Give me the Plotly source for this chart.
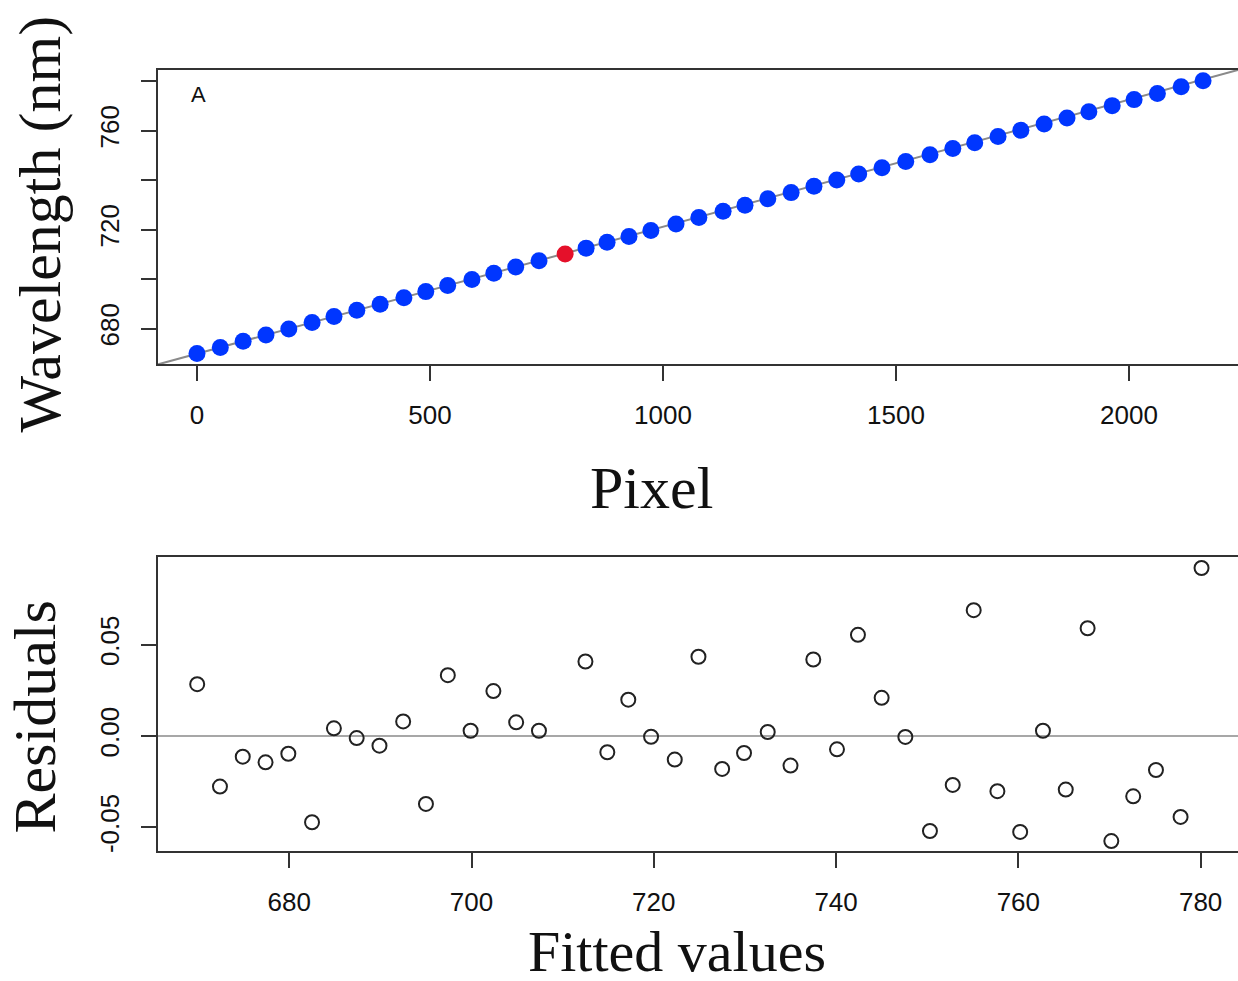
import plotly.graph_objects as go

# ---- data ----
pixel = [0, 50, 99, 148, 197, 247, 294, 343, 393, 444, 491, 538, 590, 637, 684, 734,
         835, 880, 927, 974, 1028, 1077, 1129, 1176, 1225, 1275, 1324, 1373, 1420, 1470,
         1521, 1573, 1622, 1669, 1719, 1768, 1818, 1867, 1914, 1964, 2011, 2061, 2112, 2159]
wavelength = [669.93, 672.37, 674.89, 677.39, 679.89, 682.45, 684.90, 687.40, 689.89, 692.51,
              694.96, 697.43, 699.90, 702.42, 704.91, 707.40, 712.54, 714.89, 717.24, 719.70,
              722.29, 724.94, 727.48, 729.89, 732.50, 734.98, 737.54, 740.09, 742.46, 745.02,
              747.60, 750.25, 752.77, 755.17, 757.67, 760.15, 762.70, 765.17, 767.66, 770.14,
              772.57, 775.08, 777.76, 780.19]
outlier_pixel = [790]
outlier_wavelength = [710.2]

fit_intercept = 669.85
fit_slope = 0.05135

fitted = [669.9, 672.4, 674.9, 677.4, 679.9, 682.5, 684.9, 687.4, 689.9, 692.5, 695.0, 697.4,
          699.9, 702.4, 704.9, 707.4, 712.5, 714.9, 717.2, 719.7, 722.3, 724.9, 727.5, 729.9,
          732.5, 735.0, 737.5, 740.1, 742.4, 745.0, 747.6, 750.3, 752.8, 755.1, 757.7, 760.2,
          762.7, 765.2, 767.6, 770.2, 772.6, 775.1, 777.8, 780.1]
residuals = [0.0284, -0.0277, -0.0113, -0.0144, -0.0097, -0.0472, 0.0042, -0.0011, -0.0053,
             0.0080, -0.0372, 0.0333, 0.0029, 0.0246, 0.0075, 0.0029, 0.0408, -0.0089, 0.0199,
             -0.0004, -0.0129, 0.0434, -0.0180, -0.0093, 0.0022, -0.0162, 0.0419, -0.0073,
             0.0554, 0.0209, -0.0005, -0.0520, -0.0268, 0.0689, -0.0302, -0.0525, 0.0029,
             -0.0293, 0.0590, -0.0575, -0.0330, -0.0186, -0.0443, 0.0920]

top_xticks = [0, 500, 1000, 1500, 2000]
top_yticks = [680, 700, 720, 740, 760, 780]
top_yticktext = ["680", "", "720", "", "760", ""]
bot_xticks = [680, 700, 720, 740, 760, 780]
bot_yticks = [-0.05, 0.0, 0.05]
bot_yticktext = ["-0.05", "0.00", "0.05"]

# ---- figure ----
W, H = 1238, 981
X0 = 158 / W
top_dom = [1 - 365 / H, 1 - 70 / H]
bot_dom = [1 - 853 / H, 1 - 558 / H]
top_xr = [-83.7, 2234]
top_yr = [665.6, 784.6]
bot_xr = [665.6, 784.1]
bot_yr = [-0.0631, 0.0981]

fig = go.Figure()

line_x = top_xr
line_y = [fit_intercept + fit_slope * v for v in line_x]
fig.add_trace(go.Scatter(x=line_x, y=line_y, mode="lines",
                         line=dict(color="#8a8a8a", width=2), xaxis="x", yaxis="y",
                         hoverinfo="skip", cliponaxis=True))
fig.add_trace(go.Scatter(x=pixel, y=wavelength, mode="markers",
                         marker=dict(color="#0036ff", size=17, line=dict(width=0)),
                         xaxis="x", yaxis="y"))
fig.add_trace(go.Scatter(x=outlier_pixel, y=outlier_wavelength, mode="markers",
                         marker=dict(color="#e5102a", size=17, line=dict(width=0)),
                         xaxis="x", yaxis="y"))

fig.add_trace(go.Scatter(x=bot_xr, y=[0, 0], mode="lines",
                         line=dict(color="#8a8a8a", width=1.5), xaxis="x2", yaxis="y2",
                         hoverinfo="skip"))
fig.add_trace(go.Scatter(x=fitted, y=residuals, mode="markers",
                         marker=dict(symbol="circle-open", color="#222222", size=14,
                                     line=dict(width=2)),
                         xaxis="x2", yaxis="y2"))

axis_common = dict(showgrid=False, zeroline=False, showline=True, linecolor="#333333",
                   linewidth=2, ticks="outside", ticklen=15, tickwidth=2, tickcolor="#333333",
                   tickfont=dict(family="Liberation Sans, Arial, sans-serif", size=26,
                                 color="#111111"))

fig.update_layout(
    width=W, height=H, margin=dict(l=0, r=0, t=0, b=0),
    paper_bgcolor="white", plot_bgcolor="white", showlegend=False,
    xaxis=dict(domain=[X0, 1], range=top_xr, anchor="y", tickvals=top_xticks,
               mirror=True, ticklabelstandoff=12, **axis_common),
    yaxis=dict(domain=top_dom, range=top_yr, anchor="x", tickvals=top_yticks,
               ticktext=top_yticktext, tickangle=-90, ticklabelstandoff=12, **axis_common),
    xaxis2=dict(domain=[X0, 1], range=bot_xr, anchor="y2", tickvals=bot_xticks,
                mirror=True, ticklabelstandoff=12, **axis_common),
    yaxis2=dict(domain=bot_dom, range=bot_yr, anchor="x2", tickvals=bot_yticks,
                ticktext=bot_yticktext, tickangle=-90, ticklabelstandoff=12, **axis_common),
)

serif = dict(family="Liberation Serif, Times New Roman, serif", size=60, color="#111111")
fig.add_annotation(text="Wavelength (nm)", xref="paper", yref="paper",
                   x=40 / W, y=1 - 225 / H, textangle=-90, showarrow=False, font=serif,
                   xanchor="center", yanchor="middle")
fig.add_annotation(text="Pixel", xref="paper", yref="paper",
                   x=651 / W, y=1 - 489 / H, showarrow=False, font=serif,
                   xanchor="center", yanchor="middle")
fig.add_annotation(text="Residuals", xref="paper", yref="paper",
                   x=35 / W, y=1 - 719 / H, textangle=-90, showarrow=False, font=serif,
                   xanchor="center", yanchor="middle")
fig.add_annotation(text="Fitted values", xref="paper", yref="paper",
                   x=677 / W, y=-6 / H, showarrow=False,
                   font=dict(family="Liberation Serif, Times New Roman, serif", size=58,
                             color="#111111"),
                   borderpad=0, xanchor="center", yanchor="bottom")
fig.add_annotation(text="A", xref="paper", yref="paper",
                   x=198 / W, y=1 - 95 / H, showarrow=False,
                   font=dict(family="Liberation Sans, Arial, sans-serif", size=22,
                             color="#111111"),
                   xanchor="center", yanchor="middle")

fig.write_html("out.html")
